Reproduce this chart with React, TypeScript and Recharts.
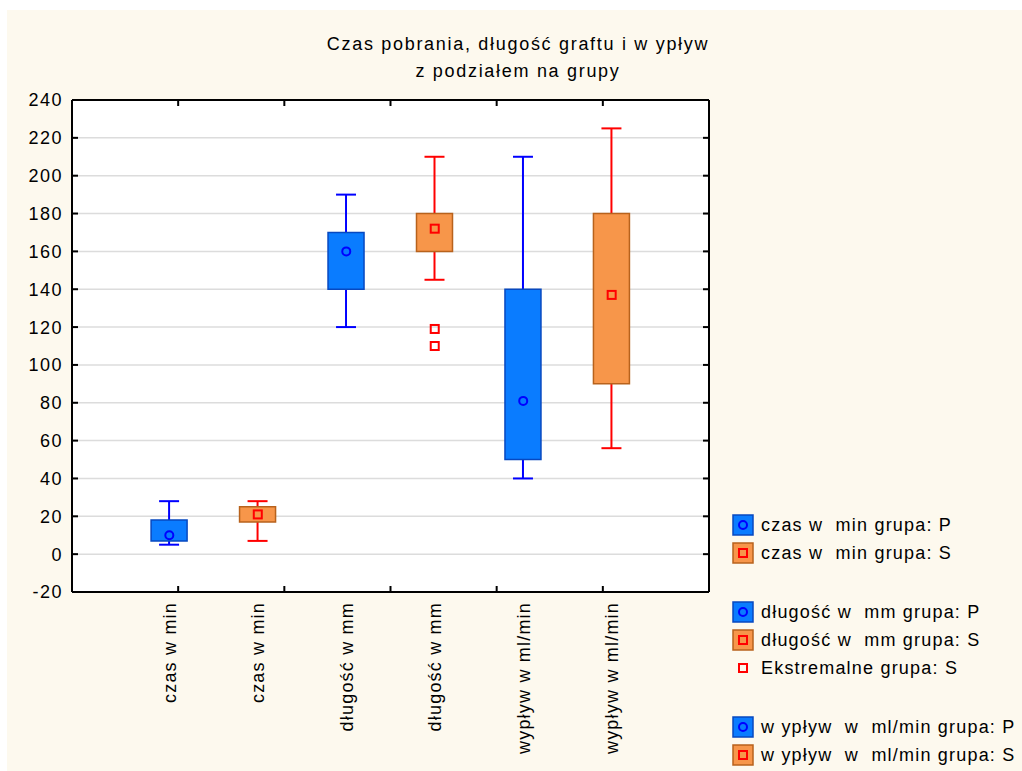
import { ComposedChart, Bar, Scatter, XAxis, YAxis, CartesianGrid, Cell } from "recharts";

// Box plots of three measurements, split into groups P and S
const categories = [
  "czas w min",
  "czas w min",
  "długość w mm",
  "długość w mm",
  "wypływ w ml/min",
  "wypływ w ml/min",
];
const groups = ["P", "S", "P", "S", "P", "S"];
const whiskerMin = [5, 7, 120, 145, 40, 56];
const whiskerMax = [28, 28, 190, 210, 210, 225];
const boxBottom = [7, 17, 140, 160, 50, 90];
const boxTop = [18, 25, 170, 180, 140, 180];
const medians = [10, 21, 160, 172, 81, 137];

// extreme values (group S, długość)
const extremeCategory = [4, 4];
const extremeValues = [119, 110];

const yTicks = [-20, 0, 20, 40, 60, 80, 100, 120, 140, 160, 180, 200, 220, 240];
const frameTicks = [-0.1, 1.1, 2.3, 3.5, 4.7, 5.9, 7.1];
const xDomain: [number, number] = [-0.1, 7.1];

const titleLines = ["Czas pobrania, długość graftu i w ypływ", "z podziałem na grupy"];

const legendItems = [
  { label: "czas w  min grupa: P", kind: "P" },
  { label: "czas w  min grupa: S", kind: "S" },
  { label: "", kind: "gap" },
  { label: "długość w  mm grupa: P", kind: "P" },
  { label: "długość w  mm grupa: S", kind: "S" },
  { label: "Ekstremalne grupa: S", kind: "E" },
  { label: "", kind: "gap" },
  { label: "w ypływ  w  ml/min grupa: P", kind: "P" },
  { label: "w ypływ  w  ml/min grupa: S", kind: "S" },
];

const rows = categories.map((label, i) => ({
  pos: i + 1,
  label,
  group: groups[i],
  whisker: [whiskerMin[i], whiskerMax[i]],
  box: [boxBottom[i], boxTop[i]],
  median: medians[i],
}));

const extremes = extremeValues.map((value, i) => ({ pos: extremeCategory[i], value }));

const FONT = "'Liberation Sans', Arial, sans-serif";
const BG = "#FDF9EE";
const BLUE_FILL = "#0A7CFF";
const BLUE_EDGE = "#0748C0";
const BLUE_LINE = "#0000FF";
const ORANGE_FILL = "#F7964A";
const ORANGE_EDGE = "#B8621C";
const RED_LINE = "#FF0000";

const FRAME = { stroke: "#000", strokeWidth: 2 };
const TICK_LEN = 6;

function WhiskerShape(props: any) {
  const { x, y, width, height, index, payload } = props;
  const group = payload?.group ?? groups[index];
  const color = group === "P" ? BLUE_LINE : RED_LINE;
  const top = Math.min(y, y + height);
  const bottom = Math.max(y, y + height);
  const mid = x + width / 2;
  return (
    <g>
      <line x1={mid} x2={mid} y1={top} y2={bottom} stroke={color} strokeWidth={2} />
      <line x1={x} x2={x + width} y1={top} y2={top} stroke={color} strokeWidth={2} />
      <line x1={x} x2={x + width} y1={bottom} y2={bottom} stroke={color} strokeWidth={2} />
    </g>
  );
}

function MedianShape(props: any) {
  const { cx, cy, payload } = props;
  if (payload.group === "P") {
    return <circle cx={cx} cy={cy} r={4} fill="none" stroke={BLUE_LINE} strokeWidth={2} />;
  }
  return <rect x={cx - 4} y={cy - 4} width={8} height={8} fill="none" stroke={RED_LINE} strokeWidth={2} />;
}

function ExtremeShape(props: any) {
  const { cx, cy } = props;
  return <rect x={cx - 4} y={cy - 4} width={8} height={8} fill="none" stroke={RED_LINE} strokeWidth={2} />;
}

// tick marks point into the plot; category names run upwards under the axis
function BottomTick(props: any) {
  const { x, y, payload } = props;
  const v = payload.value;
  if (Number.isInteger(v)) {
    return (
      <text
        x={x}
        y={y + 10}
        dy="0.35em"
        transform={`rotate(-90, ${x}, ${y + 10})`}
        textAnchor="end"
        fontFamily={FONT}
        fontSize={18}
        letterSpacing={1.2}
        fill="#000"
      >
        {categories[v - 1]}
      </text>
    );
  }
  return <line x1={x} x2={x} y1={y} y2={y - TICK_LEN} {...FRAME} />;
}

function TopTick(props: any) {
  const { x, y } = props;
  return <line x1={x} x2={x} y1={y} y2={y + TICK_LEN} {...FRAME} />;
}

function LeftTick(props: any) {
  const { x, y, payload } = props;
  return (
    <g>
      <line x1={x} x2={x + TICK_LEN} y1={y} y2={y} {...FRAME} />
      <text
        x={x - 9}
        y={y}
        dy="0.36em"
        textAnchor="end"
        fontFamily={FONT}
        fontSize={18}
        letterSpacing={1.5}
        fill="#000"
      >
        {payload.value}
      </text>
    </g>
  );
}

function RightTick(props: any) {
  const { x, y } = props;
  return <line x1={x} x2={x - TICK_LEN} y1={y} y2={y} {...FRAME} />;
}

function LegendIcon({ kind, cy }: { kind: string; cy: number }) {
  if (kind === "E") {
    return <rect x={732} y={cy - 4} width={8} height={8} fill="none" stroke={RED_LINE} strokeWidth={2} />;
  }
  const isP = kind === "P";
  return (
    <g>
      <rect
        x={726}
        y={cy - 10}
        width={20}
        height={20}
        fill={isP ? BLUE_FILL : ORANGE_FILL}
        stroke={isP ? BLUE_EDGE : ORANGE_EDGE}
        strokeWidth={1.5}
      />
      {isP ? (
        <circle cx={736} cy={cy} r={4} fill="none" stroke={BLUE_LINE} strokeWidth={2} />
      ) : (
        <rect x={732} y={cy - 4} width={8} height={8} fill="none" stroke={RED_LINE} strokeWidth={2} />
      )}
    </g>
  );
}

export default function App() {
  const bottomTicks = [...frameTicks, 1, 2, 3, 4, 5, 6].sort((a, b) => a - b);

  let rowY = 515;
  const legendRows = legendItems.map((item, i) => {
    if (item.kind === "gap") {
      rowY += 31;
      return null;
    }
    const cy = rowY;
    rowY += 28;
    return (
      <g key={i}>
        <LegendIcon kind={item.kind} cy={cy} />
        <text
          x={754}
          y={cy + 6}
          fontFamily={FONT}
          fontSize={18}
          letterSpacing={1.2}
          fill="#000"
          style={{ whiteSpace: "pre" }}
        >
          {item.label}
        </text>
      </g>
    );
  });

  return (
    <div style={{ position: "absolute", left: 7, top: 10, width: 1015, height: 761, background: BG, overflow: "hidden" }}>
      {/* white plot area behind the chart */}
      <div style={{ position: "absolute", left: 65, top: 90, width: 637, height: 492, background: "#fff" }} />
      <div style={{ position: "absolute", left: 0, top: 0 }}>
        <ComposedChart
          width={1015}
          height={761}
          data={rows}
          margin={{ top: 89, right: 312, bottom: 9, left: 10 }}
        >
          <CartesianGrid xAxisId="x" yAxisId="left" vertical={false} stroke="#DCDCDC" strokeWidth={1.5} />
          <XAxis
            xAxisId="x"
            dataKey="pos"
            type="number"
            domain={xDomain}
            allowDataOverflow
            ticks={bottomTicks}
            interval={0}
            height={170}
            tickSize={0}
            tickMargin={0}
            tickLine={false}
            axisLine={FRAME}
            tick={BottomTick}
          />
          <XAxis
            xAxisId="top"
            orientation="top"
            dataKey="pos"
            type="number"
            domain={xDomain}
            allowDataOverflow
            ticks={frameTicks}
            interval={0}
            height={1}
            tickSize={0}
            tickMargin={0}
            tickLine={false}
            axisLine={FRAME}
            tick={TopTick}
          />
          <YAxis
            yAxisId="left"
            type="number"
            domain={[-20, 240]}
            allowDataOverflow
            ticks={yTicks}
            interval={0}
            width={55}
            tickSize={0}
            tickMargin={0}
            tickLine={false}
            axisLine={FRAME}
            tick={LeftTick}
          />
          <YAxis
            yAxisId="right"
            orientation="right"
            type="number"
            domain={[-20, 240]}
            allowDataOverflow
            ticks={yTicks}
            interval={0}
            width={1}
            tickSize={0}
            tickMargin={0}
            tickLine={false}
            axisLine={FRAME}
            tick={RightTick}
          />
          <Bar
            xAxisId="top"
            yAxisId="left"
            dataKey="whisker"
            barSize={20}
            shape={WhiskerShape}
            isAnimationActive={false}
          />
          <Bar xAxisId="x" yAxisId="left" dataKey="box" barSize={36} strokeWidth={1.5} isAnimationActive={false}>
            {rows.map((r) => (
              <Cell
                key={r.pos}
                fill={r.group === "P" ? BLUE_FILL : ORANGE_FILL}
                stroke={r.group === "P" ? BLUE_EDGE : ORANGE_EDGE}
              />
            ))}
          </Bar>
          <Scatter xAxisId="x" yAxisId="left" dataKey="median" shape={MedianShape} isAnimationActive={false} />
          <Scatter
            xAxisId="x"
            yAxisId="left"
            data={extremes}
            dataKey="value"
            shape={ExtremeShape}
            isAnimationActive={false}
          />
        </ComposedChart>
      </div>
      <svg
        width={1015}
        height={761}
        style={{ position: "absolute", left: 0, top: 0, pointerEvents: "none" }}
      >
        {titleLines.map((line, i) => (
          <text
            key={i}
            x={511}
            y={40 + i * 27}
            textAnchor="middle"
            fontFamily={FONT}
            fontSize={18}
            letterSpacing={1.7}
            fill="#000"
            style={{ whiteSpace: "pre" }}
          >
            {line}
          </text>
        ))}
        {legendRows}
      </svg>
    </div>
  );
}
